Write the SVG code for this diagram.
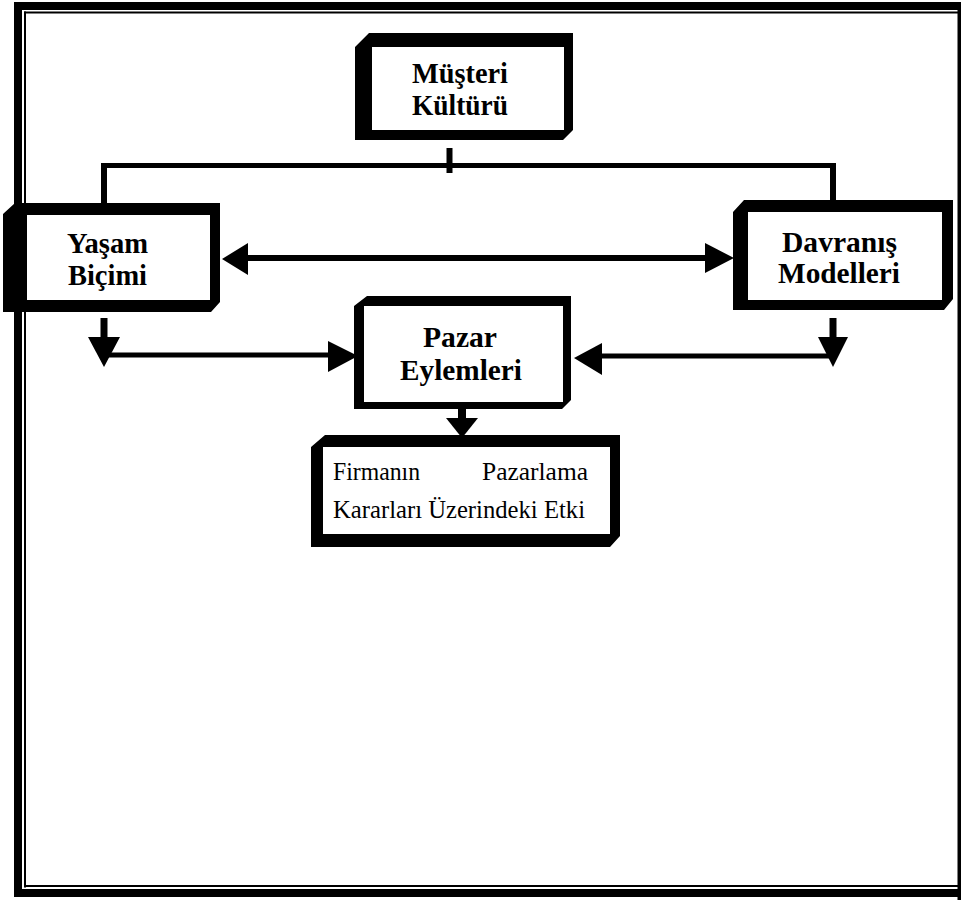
<svg xmlns="http://www.w3.org/2000/svg" width="962" height="903" viewBox="0 0 962 903">
<style>
.box{fill:#000;fill-rule:evenodd}
.hd{font-family:"Liberation Serif","Times New Roman",serif;font-weight:bold;font-size:30px;fill:#000}
.rg{font-family:"Liberation Serif","Times New Roman",serif;font-size:25px;fill:#000}
.ln{stroke:#000;fill:none}
.ah{fill:#000}
</style>
<rect width="962" height="903" fill="#fff"/>
<g id="frame">
<rect x="14" y="2" width="8" height="895" fill="#000"/>
<rect x="14" y="2" width="947" height="8" fill="#000"/>
<rect x="957.5" y="2" width="3.5" height="898" fill="#000"/>
<rect x="14" y="889" width="947" height="8" fill="#000"/>
<rect x="24" y="11.5" width="2" height="876" fill="#000"/>
<rect x="24" y="11.5" width="934" height="2" fill="#000"/>
<rect x="24" y="885" width="934" height="2" fill="#000"/>
</g>
<g id="connectors">
<line class="ln" x1="101" y1="165.5" x2="836" y2="165.5" stroke-width="5"/>
<line class="ln" x1="104" y1="163" x2="104" y2="205" stroke-width="6"/>
<line class="ln" x1="833" y1="163" x2="833" y2="202" stroke-width="6"/>
<line class="ln" x1="449.5" y1="148" x2="449.5" y2="173" stroke-width="6"/>
<line class="ln" x1="245" y1="258" x2="706" y2="258" stroke-width="6"/>
<polygon class="ah" points="222,259 248,243 248,275"/>
<polygon class="ah" points="734,258 705,243 705,273"/>
<line class="ln" x1="104" y1="318" x2="104" y2="340" stroke-width="7"/>
<polygon class="ah" points="88,337 120,337 104,367"/>
<line class="ln" x1="104" y1="355" x2="330" y2="355" stroke-width="5"/>
<polygon class="ah" points="358,356 328,341 328,372"/>
<line class="ln" x1="833" y1="318" x2="833" y2="340" stroke-width="7"/>
<polygon class="ah" points="818,337 848,337 833,367"/>
<line class="ln" x1="600" y1="356" x2="833" y2="356" stroke-width="5"/>
<polygon class="ah" points="574,358 602,343 602,375"/>
<line class="ln" x1="462" y1="406" x2="462" y2="420" stroke-width="8"/>
<polygon class="ah" points="446,418 478,418 462,438"/>
</g>
<g id="musteri">
<path class="box" d="M369,33 L573,33 L573,130 L563,140 L355,140 L355,47 Z M372,47 L372,130 L564,130 L564,47 Z"/>
<text class="hd" x="412" y="83" textLength="96" lengthAdjust="spacingAndGlyphs">Müşteri</text>
<text class="hd" x="412" y="115" textLength="96" lengthAdjust="spacingAndGlyphs">Kültürü</text>
</g>
<g id="yasam">
<path class="box" d="M15,203 L220,203 L220,302 L211,312 L3,312 L3,214 Z M27,215 L27,300 L210,300 L210,215 Z"/>
<text class="hd" x="67" y="253" textLength="81" lengthAdjust="spacingAndGlyphs">Yaşam</text>
<text class="hd" x="68" y="285" textLength="79" lengthAdjust="spacingAndGlyphs">Biçimi</text>
</g>
<g id="davranis">
<path class="box" d="M744,200 L953,200 L953,299 L944,310 L733,310 L733,212 Z M748,212 L748,300 L942,300 L942,212 Z"/>
<text class="hd" x="782" y="252" textLength="115" lengthAdjust="spacingAndGlyphs">Davranış</text>
<text class="hd" x="778" y="283" textLength="122" lengthAdjust="spacingAndGlyphs">Modelleri</text>
</g>
<g id="pazar">
<path class="box" d="M367,296 L571,296 L571,400 L562,409 L354,409 L354,306 Z M364,306 L364,402 L563,402 L563,306 Z"/>
<text class="hd" x="423" y="347" textLength="74" lengthAdjust="spacingAndGlyphs">Pazar</text>
<text class="hd" x="400" y="380" textLength="122" lengthAdjust="spacingAndGlyphs">Eylemleri</text>
</g>
<g id="firma">
<path class="box" d="M325,435 L620,435 L620,536 L610,547 L311,547 L311,447 Z M323,447 L323,534 L610,534 L610,447 Z"/>
<text class="rg" x="333" y="480" textLength="87" lengthAdjust="spacingAndGlyphs">Firmanın</text>
<text class="rg" x="482" y="480" textLength="106" lengthAdjust="spacingAndGlyphs">Pazarlama</text>
<text class="rg" x="333" y="518" textLength="252" lengthAdjust="spacingAndGlyphs">Kararları Üzerindeki Etki</text>
</g>
</svg>
